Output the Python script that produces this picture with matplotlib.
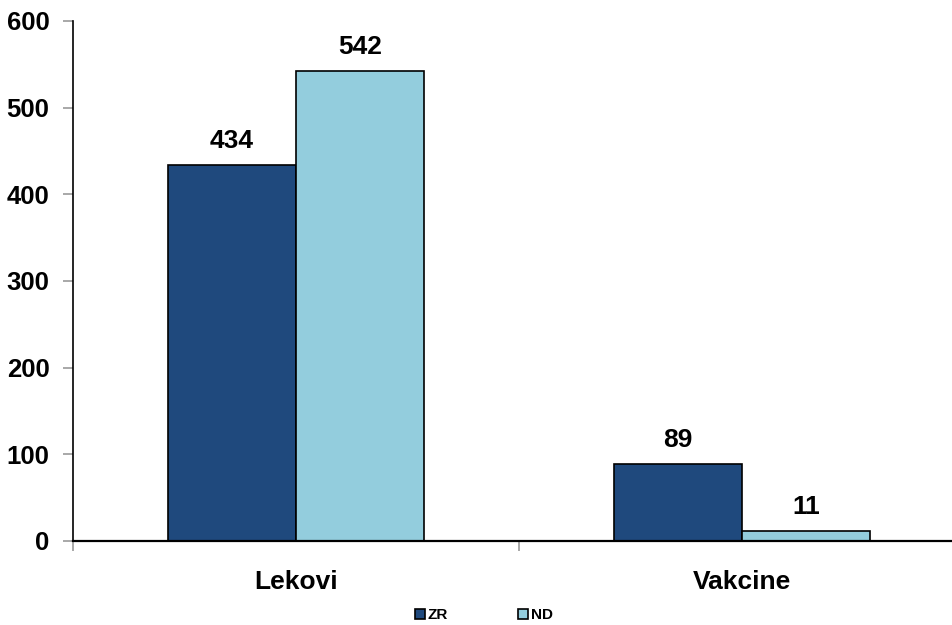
import numpy as np
import matplotlib.pyplot as plt

plt.rcParams['font.family'] = ['Liberation Sans', 'DejaVu Sans']
plt.rcParams['font.weight'] = 'bold'

categories = ["Lekovi", "Vakcine"]
zr_values = [434, 89]
nd_values = [542, 11]
series_names = ["ZR", "ND"]

fig = plt.figure(figsize=(9.52, 6.25), dpi=100)
ax = fig.add_axes([73 / 952, 1 - 541 / 625, 892 / 952, 520 / 625])

x = np.arange(len(categories))
w = 0.288
b1 = ax.bar(x - w / 2, zr_values, w, color="#1F497D", edgecolor="black", linewidth=1.2, label=series_names[0])
b2 = ax.bar(x + w / 2, nd_values, w, color="#93CDDD", edgecolor="black", linewidth=1.2, label=series_names[1])

for bars, vals in ((b1, zr_values), (b2, nd_values)):
    for r, v in zip(bars, vals):
        ax.text(r.get_x() + r.get_width() / 2, v + 14, str(v), ha="center", va="bottom",
                fontsize=19, fontweight="bold")

ax.set_xlim(-0.5, 1.5)
ax.set_ylim(0, 600)
ax.set_yticks(range(0, 601, 100))
ax.set_yticklabels([str(v) for v in range(0, 601, 100)], fontsize=18.5, fontweight="bold")

# category boundaries get the ticks, labels sit in the middle
ax.set_xticks([-0.5, 0.5, 1.5])
ax.set_xticklabels([])
ax.set_xticks(x, minor=True)
ax.set_xticklabels(categories, minor=True, fontsize=19, fontweight="bold")
ax.tick_params(axis="x", which="minor", length=0, pad=21)
ax.tick_params(axis="x", which="major", length=7, color="#999999", width=1.2)
ax.tick_params(axis="y", length=7, color="#999999", width=1.2, pad=10)

for s in ("top", "right"):
    ax.spines[s].set_visible(False)
ax.spines["left"].set_linewidth(1.2)
ax.spines["bottom"].set_linewidth(1.6)

fig.legend(handles=[b1, b2], labels=series_names, loc="center", bbox_to_anchor=(484 / 952, 1 - 615 / 625),
           ncol=2, frameon=False, handlelength=0.65, handleheight=0.65,
           handletextpad=0.2, columnspacing=4.6, prop={"weight": "bold", "size": 11})

fig.savefig("out.png", dpi=100)
